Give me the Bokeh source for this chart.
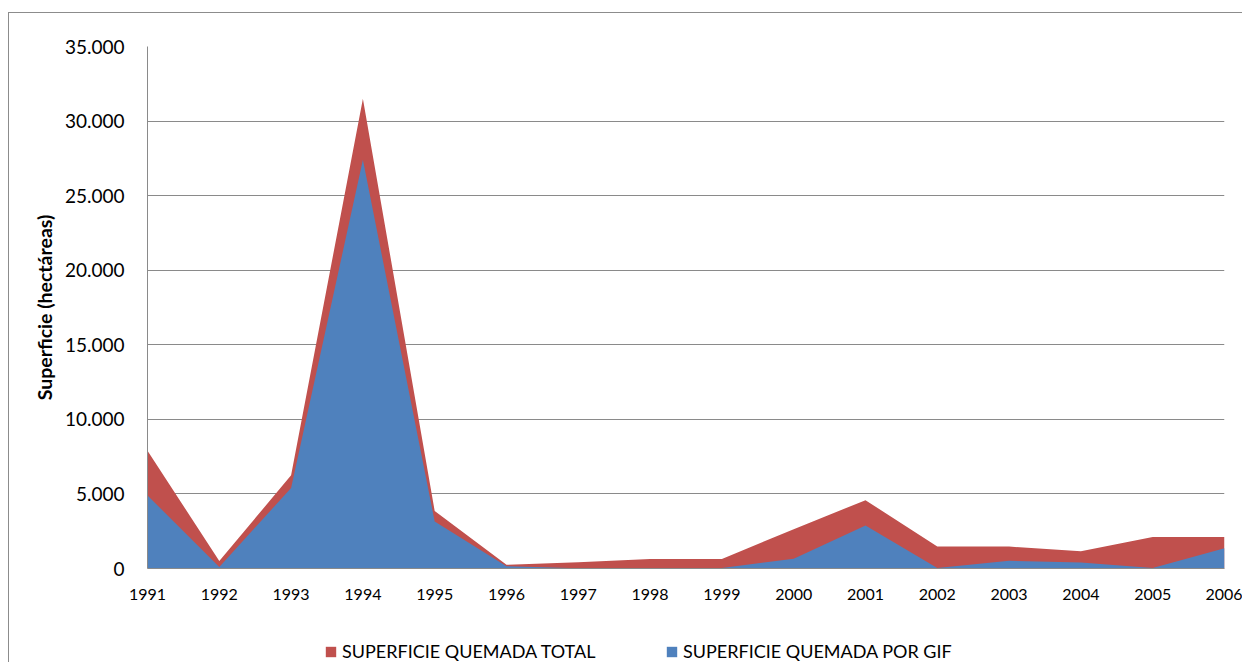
from bokeh.plotting import figure
from bokeh.layouts import column
from bokeh.models import FixedTicker, Legend, LegendItem, Range1d
from bokeh.embed import file_html
from bokeh.resources import INLINE

years = list(range(1991, 2007))
total = [7900, 500, 6250, 31500, 3850, 250, 420, 630, 630, 2640, 4580, 1470, 1470, 1160, 2120, 2120]
gif = [4900, 100, 5400, 27400, 3150, 150, 20, 20, 40, 650, 2880, 40, 520, 400, 30, 1360]
y_ticks = [0, 5000, 10000, 15000, 20000, 25000, 30000, 35000]
y_tick_labels = ["0", "5.000", "10.000", "15.000", "20.000", "25.000", "30.000", "35.000"]
x_tick_labels = [str(y) for y in years]
series_names = ["SUPERFICIE QUEMADA TOTAL", "SUPERFICIE QUEMADA POR GIF"]
y_title = "Superficie (hectáreas)"

RED = "#C0504D"
BLUE = "#4F81BD"
FONT = "Lato"
BORDER = "1px solid #8c8c8c"
zeros = [0] * len(years)

p = figure(width=1234, height=608, output_backend="svg", toolbar_location=None,
           x_range=Range1d(1991, 2006), y_range=Range1d(0, 35000),
           min_border_left=138, min_border_right=19, min_border_top=33, min_border_bottom=53)
p.margin = (12, 0, 0, 8)
p.styles = {"border-left": BORDER, "border-top": BORDER}
p.outline_line_color = None
p.background_fill_color = "white"

r_total = p.varea(x=years, y1=zeros, y2=total, fill_color=RED)
r_gif = p.varea(x=years, y1=zeros, y2=gif, fill_color=BLUE)

p.xgrid.grid_line_color = None
p.ygrid.grid_line_color = "#8a8a8a"
p.ygrid.grid_line_width = 1
p.ygrid.ticker = FixedTicker(ticks=y_ticks)

p.yaxis.ticker = FixedTicker(ticks=y_ticks)
p.yaxis.major_label_overrides = {t: l for t, l in zip(y_ticks, y_tick_labels)}
p.yaxis.major_tick_line_color = None
p.yaxis.minor_tick_line_color = None
p.yaxis.axis_line_color = "#8a8a8a"
p.yaxis.major_label_text_font = FONT
p.yaxis.major_label_text_font_size = "19px"
p.yaxis.major_label_text_color = "black"
p.yaxis.major_label_standoff = 17
p.yaxis.axis_label = y_title
p.yaxis.axis_label_text_font = FONT
p.yaxis.axis_label_text_font_size = "19.5px"
p.yaxis.axis_label_text_font_style = "bold"
p.yaxis.axis_label_text_color = "black"
p.yaxis.axis_label_standoff = 6

p.xaxis.ticker = FixedTicker(ticks=years)
p.xaxis.major_label_overrides = {y: l for y, l in zip(years, x_tick_labels)}
p.xaxis.major_tick_line_color = None
p.xaxis.minor_tick_line_color = None
p.xaxis.axis_line_color = "#8a8a8a"
p.xaxis.major_label_text_font = FONT
p.xaxis.major_label_text_font_size = "16px"
p.xaxis.major_label_text_color = "black"
p.xaxis.major_label_standoff = 14

# legend strip below the chart (its renderers lie outside its x range, so only the legend shows)
p2 = figure(width=1234, height=42, output_backend="svg", toolbar_location=None,
            x_axis_type=None, y_axis_type=None, x_range=Range1d(0, 1), y_range=Range1d(0, 1),
            min_border=0)
p2.margin = (0, 0, 0, 8)
p2.styles = {"border-left": BORDER}
p2.outline_line_color = None
p2.grid.grid_line_color = None
l_total = p2.varea(x=years, y1=zeros, y2=total, fill_color=RED)
l_gif = p2.varea(x=years, y1=zeros, y2=gif, fill_color=BLUE)

def make_legend(name, renderer, loc):
    return Legend(items=[LegendItem(label=name, renderers=[renderer])], location=loc,
                  orientation="horizontal", padding=0, margin=0, spacing=0,
                  border_line_color=None, background_fill_alpha=0,
                  glyph_width=13, glyph_height=13, label_standoff=5,
                  label_text_font=FONT, label_text_font_size="18px", label_text_color="black")

p2.add_layout(make_legend(series_names[0], l_total, (177, 0)))
p2.add_layout(make_legend(series_names[1], l_gif, (518, 0)))

layout = column(p, p2, spacing=0)
open("out.html", "w").write(file_html(layout, INLINE))
